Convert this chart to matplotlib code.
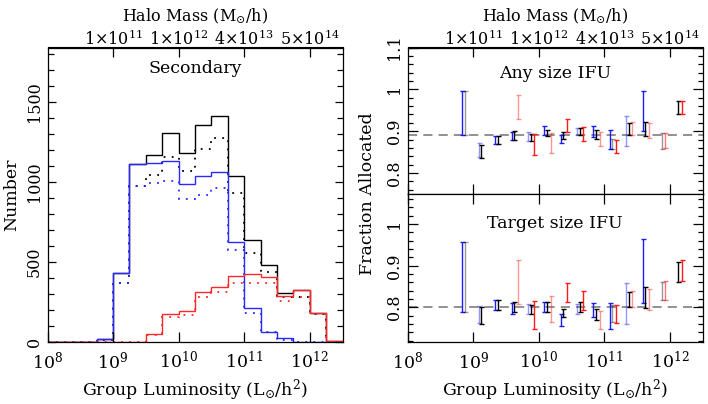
import numpy as np
import matplotlib
matplotlib.use("Agg")
import matplotlib.pyplot as plt
from matplotlib.ticker import MultipleLocator, FixedLocator

plt.rcParams['font.family'] = ['DejaVu Serif']
plt.rcParams['mathtext.fontset'] = 'dejavuserif'

# ---------------- data ----------------
# histogram bin edges in log10(L)
bin_edges = np.arange(8.0, 12.5001, 0.25)
total_all   = [0, 0, 0, 20, 433, 1112, 1171, 1310, 1185, 1358, 1415, 1040, 637, 481, 306, 327, 185, 5]
total_alloc = [0, 0, 0, 15, 369, 977, 1042, 1160, 1067, 1210, 1275, 931, 560, 442, 281, 285, 177, 4]
blue_all    = [0, 0, 0, 20, 433, 1112, 1119, 1133, 990, 1040, 1065, 625, 217, 67, 25, 4, 0, 0]
blue_alloc  = [0, 0, 0, 15, 369, 977, 994, 1008, 894, 921, 962, 577, 185, 62, 15, 3, 0, 0]
red_all     = [0, 0, 0, 0, 0, 4, 50, 175, 196, 317, 348, 417, 429, 410, 292, 327, 185, 5]
red_alloc   = [0, 0, 0, 0, 0, 3, 46, 160, 171, 285, 312, 369, 369, 369, 260, 285, 177, 4]

# fraction-allocated groups (centres in log10 L)
group_centres = [8.875, 9.125, 9.375, 9.625, 9.875, 10.125, 10.375, 10.625,
                 10.875, 11.125, 11.375, 11.625, 11.875, 12.125]
nan = np.nan
any_blue_lo  = [0.890, 0.838, 0.870, 0.879, 0.876, 0.892, 0.872, 0.890, 0.887, 0.857, 0.864, 0.900, nan, nan]
any_blue_hi  = [0.997, 0.872, 0.888, 0.899, 0.898, 0.912, 0.890, 0.908, 0.912, 0.902, 0.936, 0.997, nan, nan]
any_black_lo = [0.890, 0.835, 0.870, 0.880, 0.876, 0.888, 0.882, 0.892, 0.882, 0.857, 0.891, 0.888, 0.858, 0.941]
any_black_hi = [0.997, 0.868, 0.888, 0.900, 0.894, 0.904, 0.898, 0.908, 0.904, 0.882, 0.920, 0.921, 0.895, 0.971]
any_red_lo   = [nan, nan, nan, 0.929, 0.842, 0.847, 0.898, 0.876, 0.864, 0.847, 0.892, 0.884, 0.861, 0.941]
any_red_hi   = [nan, nan, nan, 0.986, 0.894, 0.896, 0.929, 0.910, 0.898, 0.879, 0.921, 0.920, 0.896, 0.971]
any_mean = 0.89

tgt_blue_lo  = [0.790, 0.762, 0.794, 0.784, 0.784, 0.788, 0.756, 0.784, 0.776, 0.748, 0.760, 0.810, nan, nan]
tgt_blue_hi  = [0.958, 0.804, 0.818, 0.810, 0.808, 0.814, 0.784, 0.808, 0.811, 0.810, 0.859, 0.964, nan, nan]
tgt_black_lo = [0.790, 0.760, 0.794, 0.790, 0.784, 0.788, 0.776, 0.790, 0.770, 0.765, 0.800, 0.798, 0.818, 0.860]
tgt_black_hi = [0.958, 0.802, 0.818, 0.812, 0.806, 0.812, 0.796, 0.812, 0.796, 0.806, 0.838, 0.848, 0.862, 0.910]
tgt_red_lo   = [nan, nan, nan, 0.808, 0.748, 0.766, 0.812, 0.794, 0.748, 0.762, 0.800, 0.794, 0.818, 0.864]
tgt_red_hi   = [nan, nan, nan, 0.914, 0.815, 0.828, 0.858, 0.840, 0.792, 0.806, 0.840, 0.844, 0.864, 0.914]
tgt_mean = 0.80

lum_ticks = [8, 9, 10, 11, 12]
lum_labels = [r'$10^{8}$', r'$10^{9}$', r'$10^{10}$', r'$10^{11}$', r'$10^{12}$']
mass_ticks = [9, 10, 11, 12]
mass_labels = [r'$1{\times}10^{11}$', r'$1{\times}10^{12}$', r'$4{\times}10^{13}$', r'$5{\times}10^{14}$']

# styles (not data)
blue_alpha  = [1, .45, 1, 1, .45, 1, 1, .45, 1, 1, .45, 1, 1, 1]
black_alpha = [.4, 1, 1, 1, 1, 1, 1, 1, 1, .4, 1, 1, .4, 1]
red_alpha   = [1, 1, 1, .45, 1, .45, 1, 1, .45, 1, .45, .45, .6, 1]

FS = 11.5
W, H = 708, 404
fig = plt.figure(figsize=(W/100, H/100), dpi=100)

def frac(x0, y0, x1, y1):
    return [x0/W, 1 - y1/H, (x1-x0)/W, (y1-y0)/H]

def style_x(ax, labels=True):
    ax.set_xlim(8, 12.5)
    ax.xaxis.set_major_locator(FixedLocator(lum_ticks))
    ax.xaxis.set_minor_locator(FixedLocator([]))
    if labels:
        ax.set_xticklabels(lum_labels, fontsize=FS+1)
    else:
        ax.set_xticklabels([])
    ax.tick_params(axis='x', which='major', direction='in', length=7, width=0.9,
                   top=True, bottom=True, pad=6)

def add_mass_axis(ax):
    sec = ax.secondary_xaxis('top')
    sec.set_xticks(mass_ticks)
    sec.set_xticklabels(mass_labels, fontsize=FS)
    sec.tick_params(direction='in', length=7, width=0.9, pad=-1)
    sec.set_xlabel(r'Halo Mass (M$_{\odot}$/h)', fontsize=FS, labelpad=6)
    ax.tick_params(axis='x', top=False)
    return sec

# ---------------- left panel ----------------
axL = fig.add_axes(frac(47.5, 47.5, 342.5, 342.3))
axL.stairs(total_all, bin_edges, color='black', lw=1.0)
axL.stairs(total_alloc, bin_edges, color='black', lw=1.3, ls=(0, (1, 3.5)))
axL.stairs(blue_all, bin_edges, color='#2828ff', lw=1.0)
axL.stairs(blue_alloc, bin_edges, color='#2828ff', lw=1.3, ls=(0, (1, 3.5)))
axL.stairs(red_all, bin_edges, color='#ff2828', lw=1.0)
axL.stairs(red_alloc, bin_edges, color='#ff2828', lw=1.3, ls=(0, (1, 3.5)))
style_x(axL)
axL.set_ylim(0, 1841)
axL.yaxis.set_major_locator(MultipleLocator(500))
axL.yaxis.set_minor_locator(MultipleLocator(100))
axL.tick_params(axis='y', which='both', direction='in', left=True, right=True, width=0.9)
axL.tick_params(axis='y', which='major', length=6)
axL.tick_params(axis='y', which='minor', length=4)
for t in axL.get_yticklabels():
    t.set_rotation(90)
    t.set_va('center')
    t.set_fontsize(FS)
axL.set_ylabel('Number', fontsize=FS+1, labelpad=4)
axL.set_xlabel(r'Group Luminosity (L$_{\odot}$/h$^{2}$)', fontsize=FS+1, labelpad=3)
add_mass_axis(axL)
axL.text(0.5, 0.93, 'Secondary', transform=axL.transAxes, ha='center', va='center', fontsize=FS+1)

# ---------------- right panels ----------------
offsets = {'blue': -0.04, 'black': 0.0, 'red': 0.055}
colors = {'blue': '#1a1aff', 'black': 'black', 'red': '#ff1a1a'}

def draw_bars(ax, lo, hi, key, alphas):
    for c, l, h, a in zip(group_centres, lo, hi, alphas):
        if np.isnan(l):
            continue
        ax.errorbar([c + offsets[key]], [(l + h) / 2], yerr=[[(h - l) / 2], [(h - l) / 2]],
                    fmt='none', ecolor=colors[key], alpha=a, elinewidth=1.0,
                    capsize=1.8, capthick=1.0)

def style_y(ax, ylim, ticks):
    ax.set_ylim(*ylim)
    ax.yaxis.set_major_locator(FixedLocator(ticks))
    ax.yaxis.set_minor_locator(MultipleLocator(0.02))
    ax.set_yticklabels([('%g' % t) for t in ticks], rotation=90, va='center', fontsize=FS)
    ax.tick_params(axis='y', which='both', direction='in', left=True, right=True, width=0.9)
    ax.tick_params(axis='y', which='major', length=7)
    ax.tick_params(axis='y', which='minor', length=3.5)

axT = fig.add_axes(frac(407.8, 47.5, 702.5, 194))
axB = fig.add_axes(frac(407.8, 194, 702.5, 342.3))

for ax, mean, sets, ylim, ticks, title in [
        (axT, any_mean, [(any_blue_lo, any_blue_hi, 'blue', blue_alpha),
                         (any_black_lo, any_black_hi, 'black', black_alpha),
                         (any_red_lo, any_red_hi, 'red', red_alpha)],
         (0.75, 1.1), [0.8, 0.9, 1.0, 1.1], 'Any size IFU'),
        (axB, tgt_mean, [(tgt_blue_lo, tgt_blue_hi, 'blue', blue_alpha),
                         (tgt_black_lo, tgt_black_hi, 'black', black_alpha),
                         (tgt_red_lo, tgt_red_hi, 'red', red_alpha)],
         (0.7165, 1.072), [0.8, 0.9, 1.0], 'Target size IFU')]:
    ax.axhline(mean, color='0.45', lw=1.1, ls=(0, (6, 4)), zorder=0)
    for lo, hi, key, al in sets:
        draw_bars(ax, lo, hi, key, al)
    style_y(ax, ylim, ticks)
    ax.text(0.5, 0.82 if ax is axT else 0.80, title, transform=ax.transAxes,
            ha='center', va='center', fontsize=FS+1)

style_x(axT, labels=False)
style_x(axB, labels=True)
add_mass_axis(axT)
axB.set_xlabel(r'Group Luminosity (L$_{\odot}$/h$^{2}$)', fontsize=FS+1, labelpad=3)
fig.text(368/W, 1 - 194/H, 'Fraction Allocated', rotation=90, ha='center', va='center', fontsize=FS+1)

for ax in (axL, axT, axB):
    for s in ax.spines.values():
        s.set_linewidth(0.9)

fig.savefig('out.png', dpi=100)
